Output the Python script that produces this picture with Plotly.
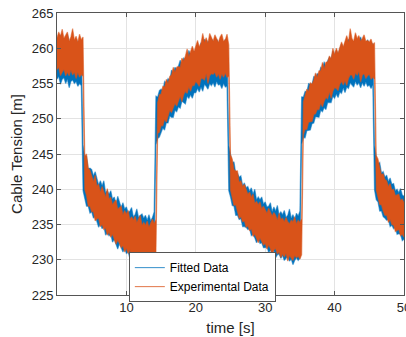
import plotly.graph_objects as go

# sampling step of the recorded signal [s]
dt = 0.25

# Envelope of the noisy signals (upper / lower edge of each band)
exp_upper = [
    261.5, 262.3, 261.7, 262.7, 261.4, 261.9, 262.3, 261.0, 261.6, 262.8,
    261.2, 261.7, 260.9, 262.0, 261.2, 261.6, 244.7, 245.0, 243.0, 242.7,
    242.0, 241.1, 242.0, 240.5, 240.7, 239.6, 240.4, 239.5, 238.9, 240.1,
    238.6, 238.9, 237.8, 238.2, 238.5, 237.2, 237.4, 237.6, 236.4, 237.0,
    236.5, 237.0, 235.7, 236.1, 235.6, 236.2, 235.3, 235.7, 236.3, 234.9,
    235.3, 234.9, 235.5, 234.6, 235.1, 235.8, 235.1, 235.7, 252.3, 253.4,
    253.5, 254.6, 254.5, 255.6, 255.0, 256.0, 256.2, 257.3, 256.6, 257.3,
    257.4, 257.3, 258.6, 258.2, 258.9, 259.9, 258.8, 259.5, 260.3, 259.5,
    260.3, 261.1, 260.2, 260.7, 262.1, 260.9, 261.5, 260.7, 262.1, 261.4,
    261.0, 261.9, 261.3, 260.8, 261.6, 262.0, 261.0, 261.2, 262.0, 260.5,
    244.9, 244.3, 242.8, 242.6, 242.6, 241.0, 241.2, 240.4, 240.7, 239.9,
    239.3, 239.6, 238.9, 239.3, 238.0, 238.3, 237.8, 238.2, 237.2, 237.6,
    237.2, 236.6, 237.3, 236.6, 236.2, 236.7, 236.3, 235.6, 236.6, 235.7,
    235.9, 235.4, 236.0, 235.4, 235.1, 235.6, 235.4, 236.1, 235.1, 235.6,
    235.3, 235.8, 252.4, 253.3, 254.2, 253.9, 255.1, 254.9, 255.5, 256.5,
    255.9, 256.8, 256.8, 258.0, 257.1, 258.0, 258.1, 258.9, 258.5, 260.0,
    259.1, 260.0, 259.3, 260.1, 260.9, 260.2, 260.9, 261.8, 260.9, 262.8,
    261.4, 261.0, 262.2, 261.4, 261.8, 261.0, 261.4, 261.9, 261.0, 261.1,
    260.9, 261.3, 260.5, 260.8, 244.8, 244.3, 243.1, 242.1, 242.2, 241.4,
    241.2, 240.4, 240.8, 239.9, 240.0, 239.1, 239.2, 239.3, 238.4, 238.6,
    238.1,
]

exp_lower = [
    257.0, 257.3, 256.1, 256.6, 257.0, 256.1, 256.6, 256.1, 256.9, 256.2,
    256.6, 255.7, 256.6, 255.9, 256.3, 256.0, 240.0, 239.1, 237.6, 237.6,
    236.8, 236.8, 235.5, 235.8, 235.9, 234.7, 235.0, 234.3, 234.5, 233.5,
    233.9, 233.2, 233.6, 232.9, 232.2, 232.8, 232.3, 231.7, 232.0, 231.1,
    231.6, 230.9, 231.4, 230.2, 230.8, 230.4, 231.0, 229.6, 230.3, 230.5,
    230.0, 230.5, 229.6, 230.2, 230.0, 229.6, 230.5, 230.4, 247.9, 248.1,
    249.0, 249.0, 249.9, 249.5, 250.5, 251.2, 250.9, 251.5, 252.2, 251.8,
    252.6, 253.2, 252.4, 253.4, 253.9, 253.6, 254.5, 253.9, 254.7, 254.7,
    255.3, 255.0, 254.6, 255.7, 255.7, 255.5, 256.4, 255.0, 256.1, 256.4,
    256.3, 256.6, 255.9, 256.4, 255.6, 256.4, 255.9, 256.5, 255.9, 256.0,
    239.9, 239.1, 237.7, 237.8, 236.9, 235.9, 236.1, 235.4, 235.5, 234.6,
    234.8, 234.1, 234.4, 233.3, 233.6, 233.1, 232.4, 233.1, 232.6, 232.1,
    232.3, 231.5, 232.1, 231.6, 230.7, 231.4, 231.6, 230.8, 231.1, 230.3,
    230.8, 230.4, 230.9, 229.8, 230.6, 230.2, 229.9, 230.6, 230.3, 230.5,
    230.1, 230.7, 247.7, 248.5, 248.5, 249.5, 249.6, 249.6, 250.6, 250.7,
    251.3, 251.3, 252.2, 251.7, 252.5, 253.0, 252.8, 253.8, 252.9, 253.9,
    254.4, 254.3, 254.0, 254.9, 255.3, 254.8, 255.4, 254.7, 255.7, 256.2,
    256.2, 255.6, 256.5, 256.2, 256.7, 255.2, 256.2, 256.4, 255.7, 256.1,
    256.3, 255.6, 255.9, 255.6, 239.9, 239.0, 237.8, 237.8, 236.9, 236.3,
    236.3, 235.3, 235.7, 235.0, 234.9, 234.0, 234.2, 234.3, 233.4, 233.6,
    233.2,
]

fit_upper = [
    261.5, 260.7, 261.9, 260.9, 261.5, 260.6, 262.0, 260.9, 260.6, 261.3,
    260.6, 261.3, 260.8, 260.1, 260.9, 246.3, 244.5, 244.7, 242.9, 243.0,
    242.8, 241.9, 242.5, 241.3, 240.6, 241.2, 240.5, 241.2, 239.5, 239.8,
    239.3, 239.8, 238.6, 238.9, 237.9, 239.0, 238.0, 237.4, 238.1, 237.2,
    237.5, 236.7, 236.9, 237.4, 236.1, 236.4, 237.2, 236.0, 236.3, 236.5,
    235.9, 236.3, 235.6, 236.4, 235.5, 236.0, 236.8, 253.2, 253.1, 254.0,
    254.2, 254.0, 255.3, 255.1, 255.7, 255.4, 256.9, 256.5, 257.3, 257.0,
    257.5, 258.3, 257.7, 258.6, 258.4, 258.3, 259.7, 259.0, 259.6, 259.6,
    259.5, 260.2, 259.7, 260.8, 260.4, 261.3, 260.4, 261.0, 260.8, 261.3,
    261.0, 260.5, 261.3, 260.8, 260.5, 261.1, 260.5, 261.3, 260.6, 246.2,
    245.0, 243.7, 243.9, 242.3, 242.3, 241.7, 241.9, 240.5, 240.9, 240.2,
    240.4, 239.7, 240.2, 239.3, 240.0, 238.5, 238.9, 238.5, 238.9, 237.9,
    238.2, 237.5, 237.6, 238.1, 236.8, 237.5, 236.9, 237.7, 236.4, 236.8,
    236.4, 237.0, 236.0, 236.3, 237.2, 235.9, 236.4, 235.7, 236.6, 236.2,
    236.9, 253.1, 253.1, 253.9, 253.8, 255.0, 254.9, 254.9, 256.0, 255.9,
    256.4, 256.3, 257.3, 257.1, 258.1, 257.3, 258.2, 258.7, 258.4, 259.6,
    259.0, 259.7, 259.1, 259.8, 260.6, 259.9, 260.6, 260.5, 261.3, 260.6,
    261.0, 260.6, 261.4, 260.9, 261.1, 261.6, 260.7, 261.2, 260.4, 261.2,
    260.6, 260.1, 260.7, 246.2, 244.6, 243.6, 243.8, 242.3, 242.5, 241.7,
    242.0, 241.1, 241.6, 240.7, 240.8, 239.8, 240.0, 239.5, 240.1, 239.2,
    239.0,
]

fit_lower = [
    255.6, 256.0, 254.9, 255.6, 255.8, 255.0, 255.6, 254.4, 255.3, 255.5,
    255.0, 255.3, 254.6, 255.0, 254.7, 239.8, 238.8, 237.6, 237.6, 236.6,
    236.8, 235.9, 236.2, 235.4, 234.6, 235.1, 234.4, 234.7, 233.5, 233.8,
    233.4, 233.6, 232.5, 232.9, 232.2, 231.5, 232.3, 231.7, 231.1, 231.6,
    230.9, 231.1, 230.2, 231.0, 229.7, 230.3, 230.5, 229.8, 230.1, 229.5,
    230.1, 229.7, 230.2, 229.4, 229.9, 229.8, 230.3, 246.3, 247.2, 247.4,
    248.0, 248.7, 248.4, 249.4, 249.4, 250.4, 250.2, 250.2, 251.2, 251.0,
    251.7, 251.5, 252.5, 252.3, 252.1, 253.2, 252.9, 253.4, 252.9, 253.7,
    253.7, 254.3, 253.8, 254.5, 253.9, 254.9, 254.6, 254.2, 255.0, 254.7,
    255.1, 254.5, 255.3, 254.8, 254.9, 254.3, 255.0, 254.5, 254.6, 239.8,
    238.9, 237.7, 237.6, 236.3, 236.3, 235.7, 235.8, 234.7, 234.7, 234.6,
    234.3, 234.4, 233.4, 233.6, 233.1, 232.4, 233.0, 232.3, 232.4, 231.7,
    231.7, 231.9, 231.0, 231.4, 230.9, 231.4, 230.3, 230.7, 230.8, 230.2,
    230.6, 229.9, 230.2, 230.5, 229.8, 230.1, 229.3, 229.9, 230.3, 229.9,
    230.2, 246.4, 247.3, 247.3, 248.3, 248.3, 248.4, 249.3, 249.4, 250.3,
    250.2, 250.2, 251.2, 251.0, 251.6, 251.3, 252.3, 252.3, 252.3, 253.2,
    252.9, 253.5, 253.0, 253.8, 253.6, 254.4, 253.7, 254.5, 254.3, 255.1,
    254.8, 254.5, 255.3, 254.8, 255.1, 254.4, 255.1, 254.6, 255.2, 254.6,
    254.8, 254.3, 254.8, 239.9, 238.5, 238.2, 236.9, 236.9, 236.1, 235.9,
    235.6, 235.7, 234.7, 234.9, 234.4, 234.6, 233.6, 233.7, 233.6, 232.7,
    232.9,
]

series_names = ["Fitted Data", "Experimental Data"]
series_colors = ["#0072BD", "#D95319"]
series_edges = ["rgba(0,114,189,0.55)", "rgba(217,83,25,0.55)"]
x_ticks = [10, 20, 30, 40, 50]
y_ticks = [225, 230, 235, 240, 245, 250, 255, 260, 265]

fig = go.Figure()

for upper, lower, color, edge in [(fit_upper, fit_lower, series_colors[0], series_edges[0]),
                                  (exp_upper, exp_lower, series_colors[1], series_edges[1])]:
    t = [i * dt for i in range(len(upper))]
    fig.add_trace(go.Scatter(
        x=t + t[::-1], y=upper + lower[::-1],
        mode="lines", fill="toself", fillcolor=color,
        line=dict(color=edge, width=1.2),
        showlegend=False, hoverinfo="skip",
    ))

# legend entries (line samples)
for name, color in zip(series_names, series_colors):
    fig.add_trace(go.Scatter(x=[None], y=[None], mode="lines", name=name,
                             line=dict(color=color, width=0.8)))

axis_common = dict(
    showgrid=True, gridcolor="#e3e3e3", gridwidth=1,
    showline=True, linecolor="#555555", linewidth=1, mirror="allticks",
    ticks="inside", ticklen=4, tickcolor="#555555",
    tickfont=dict(family="Liberation Sans, Arial, sans-serif", size=13, color="#262626"),
    zeroline=False, automargin=False,
)

fig.update_layout(
    width=406, height=337,
    margin=dict(l=57, r=2, t=13, b=42, autoexpand=False),
    paper_bgcolor="white", plot_bgcolor="white",
    font=dict(family="Liberation Sans, Arial, sans-serif", color="#262626"),
    xaxis=dict(range=[0, 50], tickvals=x_ticks, ticklabeloverflow="allow",
               title=dict(text="time [s]", font=dict(size=15), standoff=8),
               **axis_common),
    yaxis=dict(range=[225, 265], tickvals=y_ticks,
               title=dict(text="Cable Tension [m]", font=dict(size=15), standoff=5),
               **axis_common),
    legend=dict(x=0.207, y=0.152, xanchor="left", yanchor="top",
                bgcolor="white", bordercolor="#555555", borderwidth=1,
                font=dict(size=12, color="#000000"), itemwidth=30,
                tracegroupgap=0),
    showlegend=True,
)

fig.write_html("out.html", config={"displayModeBar": False},
               post_script="document.body.style.margin='0';")
